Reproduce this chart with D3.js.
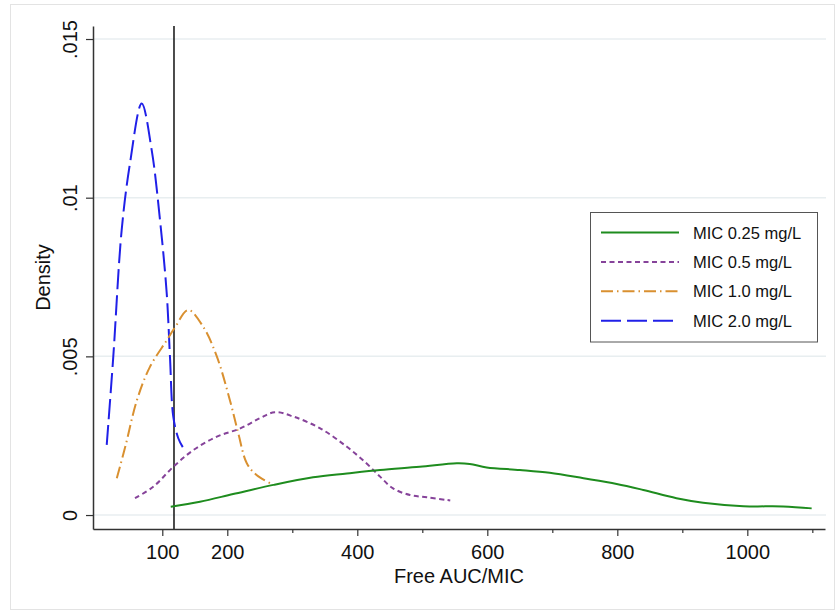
<!DOCTYPE html>
<html>
<head>
<meta charset="utf-8">
<script src="https://cdn.jsdelivr.net/npm/d3@7"></script>
<style>
  body { margin: 0; background: #fff; }
  svg { display: block; font-family: "Liberation Sans", Arial, Helvetica, sans-serif; }
</style>
</head>
<body>
<div id="chart"></div>
<script>
// series labels
var seriesLabels = ["MIC 0.25 mg/L", "MIC 0.5 mg/L", "MIC 1.0 mg/L", "MIC 2.0 mg/L"];

// MIC 0.25 mg/L
var mic025X = [113, 158, 209, 271, 332, 384, 435, 496, 553, 573, 599, 650, 696, 748, 799, 840, 891, 932, 994, 1055, 1099];
var mic025Y = [0.00026, 0.00042, 0.00066, 0.00095, 0.00119, 0.00131, 0.00142, 0.00152, 0.00163, 0.00161, 0.0015, 0.00142, 0.00133, 0.00116, 0.00098, 0.00079, 0.00053, 0.00039, 0.00028, 0.00027, 0.00021];

// MIC 0.5 mg/L
var mic05X = [58, 86, 117, 148, 184, 220, 250, 273, 302, 343, 384, 414, 435, 455, 481, 507, 543];
var mic05Y = [0.00053, 0.00089, 0.00152, 0.00205, 0.00247, 0.00273, 0.00305, 0.00324, 0.0031, 0.00273, 0.00215, 0.00163, 0.00121, 0.00084, 0.00063, 0.00056, 0.00046];

// MIC 1.0 mg/L
var mic10X = [30, 43, 61, 81, 107, 120, 140, 163, 184, 204, 217, 230, 245, 271];
var mic10Y = [0.00116, 0.00215, 0.00362, 0.00467, 0.00551, 0.00593, 0.00646, 0.00593, 0.00499, 0.00362, 0.00257, 0.00163, 0.00126, 0.00095];

// MIC 2.0 mg/L
var mic20X = [14.5, 24.6, 37.5, 50.3, 68.3, 83.7, 96.5, 106.8, 111.8, 116.9, 124.6, 131.5];
var mic20Y = [0.00221, 0.00499, 0.00898, 0.01108, 0.01297, 0.0115, 0.00929, 0.00699, 0.00499, 0.0031, 0.00242, 0.00214];

// axis ticks
var xTickValues = [100, 200, 400, 600, 800, 1000];
var xMinorTicks = [300, 500, 700, 900, 1100];
var yTickValues = [0, 0.005, 0.01, 0.015];
var refLineX = 118; // 竖直参考线

var width = 836;
var height = 611;
var margin = { top: 26, right: 11, bottom: 82, left: 93 };

var svg = d3
  .select("#chart")
  .append("svg")
  .attr("width", width)
  .attr("height", height);

// 外框
svg
  .append("rect")
  .attr("x", 10.5)
  .attr("y", 4.5)
  .attr("width", 824)
  .attr("height", 605)
  .attr("fill", "#fff")
  .attr("stroke", "#e3e3e3");

var x = d3.scaleLinear().domain([-6.6, 1119.5]).range([margin.left, width - margin.right]);
var y = d3.scaleLinear().domain([-0.00044, 0.01541]).range([height - margin.bottom, margin.top]);

// 网格线
svg
  .append("g")
  .selectAll("line")
  .data(yTickValues)
  .enter()
  .append("line")
  .attr("x1", margin.left)
  .attr("x2", 826)
  .attr("y1", y)
  .attr("y2", y)
  .attr("stroke", "#e8eef0")
  .attr("stroke-width", 1.5);

// 参考线
svg
  .append("line")
  .attr("x1", x(refLineX))
  .attr("x2", x(refLineX))
  .attr("y1", margin.top)
  .attr("y2", height - margin.bottom)
  .attr("stroke", "#111")
  .attr("stroke-width", 1.5);

var series = [
  { name: seriesLabels[0], xs: mic025X, ys: mic025Y, color: "#1e8c1e", dash: null },
  { name: seriesLabels[1], xs: mic05X, ys: mic05Y, color: "#86439a", dash: "5,3.5" },
  { name: seriesLabels[2], xs: mic10X, ys: mic10Y, color: "#d99030", dash: "12,4,1.5,4" },
  { name: seriesLabels[3], xs: mic20X, ys: mic20Y, color: "#2020e8", dash: "20,6" }
];

var line = d3
  .line()
  .x(function (d) { return x(d[0]); })
  .y(function (d) { return y(d[1]); })
  .curve(d3.curveCatmullRom.alpha(0.5));

// 曲线 (draw in reverse so green is on top like the original order)
series.slice().reverse().forEach(function (s) {
  svg
    .append("path")
    .datum(d3.zip(s.xs, s.ys))
    .attr("fill", "none")
    .attr("stroke", s.color)
    .attr("stroke-width", 2)
    .attr("stroke-dasharray", s.dash)
    .attr("d", line);
});

// x轴
var xAxis = svg
  .append("g")
  .attr("transform", "translate(0," + (height - margin.bottom) + ")")
  .call(d3.axisBottom(x).tickValues(xTickValues).tickSize(7).tickSizeOuter(0).tickFormat(d3.format("d")));
xAxis.select(".domain").attr("stroke", "#333").attr("stroke-width", 1.5);
xAxis.selectAll(".tick line").attr("stroke", "#333").attr("stroke-width", 1.2);
xAxis
  .selectAll(".tick text")
  .attr("y", 30)
  .attr("dy", 0)
  .attr("fill", "#111")
  .style("font-size", "20px");

var xMinor = svg
  .append("g")
  .attr("transform", "translate(0," + (height - margin.bottom) + ")")
  .call(d3.axisBottom(x).tickValues(xMinorTicks).tickSize(4).tickFormat(""));
xMinor.select(".domain").remove();
xMinor.selectAll(".tick line").attr("stroke", "#333").attr("stroke-width", 1.2);

// y轴
var yAxis = svg
  .append("g")
  .attr("transform", "translate(" + margin.left + ",0)")
  .call(
    d3
      .axisLeft(y)
      .tickValues(yTickValues)
      .tickSize(7)
      .tickSizeOuter(0)
      .tickFormat(function (d) {
        return d === 0 ? "0" : d3.format(".3~f")(d).replace(/^0/, "");
      })
  );
yAxis.select(".domain").attr("stroke", "#333").attr("stroke-width", 1.5);
yAxis.selectAll(".tick line").attr("stroke", "#333").attr("stroke-width", 1.2);
yAxis
  .selectAll(".tick text")
  .attr("x", null)
  .attr("dy", 0)
  .attr("text-anchor", "middle")
  .attr("transform", "translate(-16,0) rotate(-90)")
  .attr("fill", "#111")
  .style("font-size", "20px");

// 轴标题
svg
  .append("text")
  .attr("x", (margin.left + width - margin.right) / 2)
  .attr("y", 583)
  .attr("text-anchor", "middle")
  .attr("fill", "#111")
  .style("font-size", "20px")
  .text("Free AUC/MIC");

svg
  .append("text")
  .attr("transform", "translate(49.5," + (margin.top + height - margin.bottom) / 2 + ") rotate(-90)")
  .attr("text-anchor", "middle")
  .attr("fill", "#111")
  .style("font-size", "20px")
  .text("Density");

// 图例
var legend = svg.append("g");
legend
  .append("rect")
  .attr("x", 590.5)
  .attr("y", 212.5)
  .attr("width", 227)
  .attr("height", 129.5)
  .attr("fill", "#fff")
  .attr("stroke", "#555")
  .attr("stroke-width", 1);

var legendItem = legend
  .selectAll("g")
  .data(series)
  .enter()
  .append("g")
  .attr("transform", function (d, i) {
    return "translate(0," + (232.5 + i * 29.4) + ")";
  });
legendItem
  .append("line")
  .attr("x1", 601)
  .attr("x2", 679)
  .attr("stroke", function (d) { return d.color; })
  .attr("stroke-width", 2)
  .attr("stroke-dasharray", function (d) { return d.dash; });
legendItem
  .append("text")
  .attr("x", 693)
  .attr("y", 6)
  .attr("fill", "#111")
  .style("font-size", "16.5px")
  .text(function (d) { return d.name; });
</script>
</body>
</html>
